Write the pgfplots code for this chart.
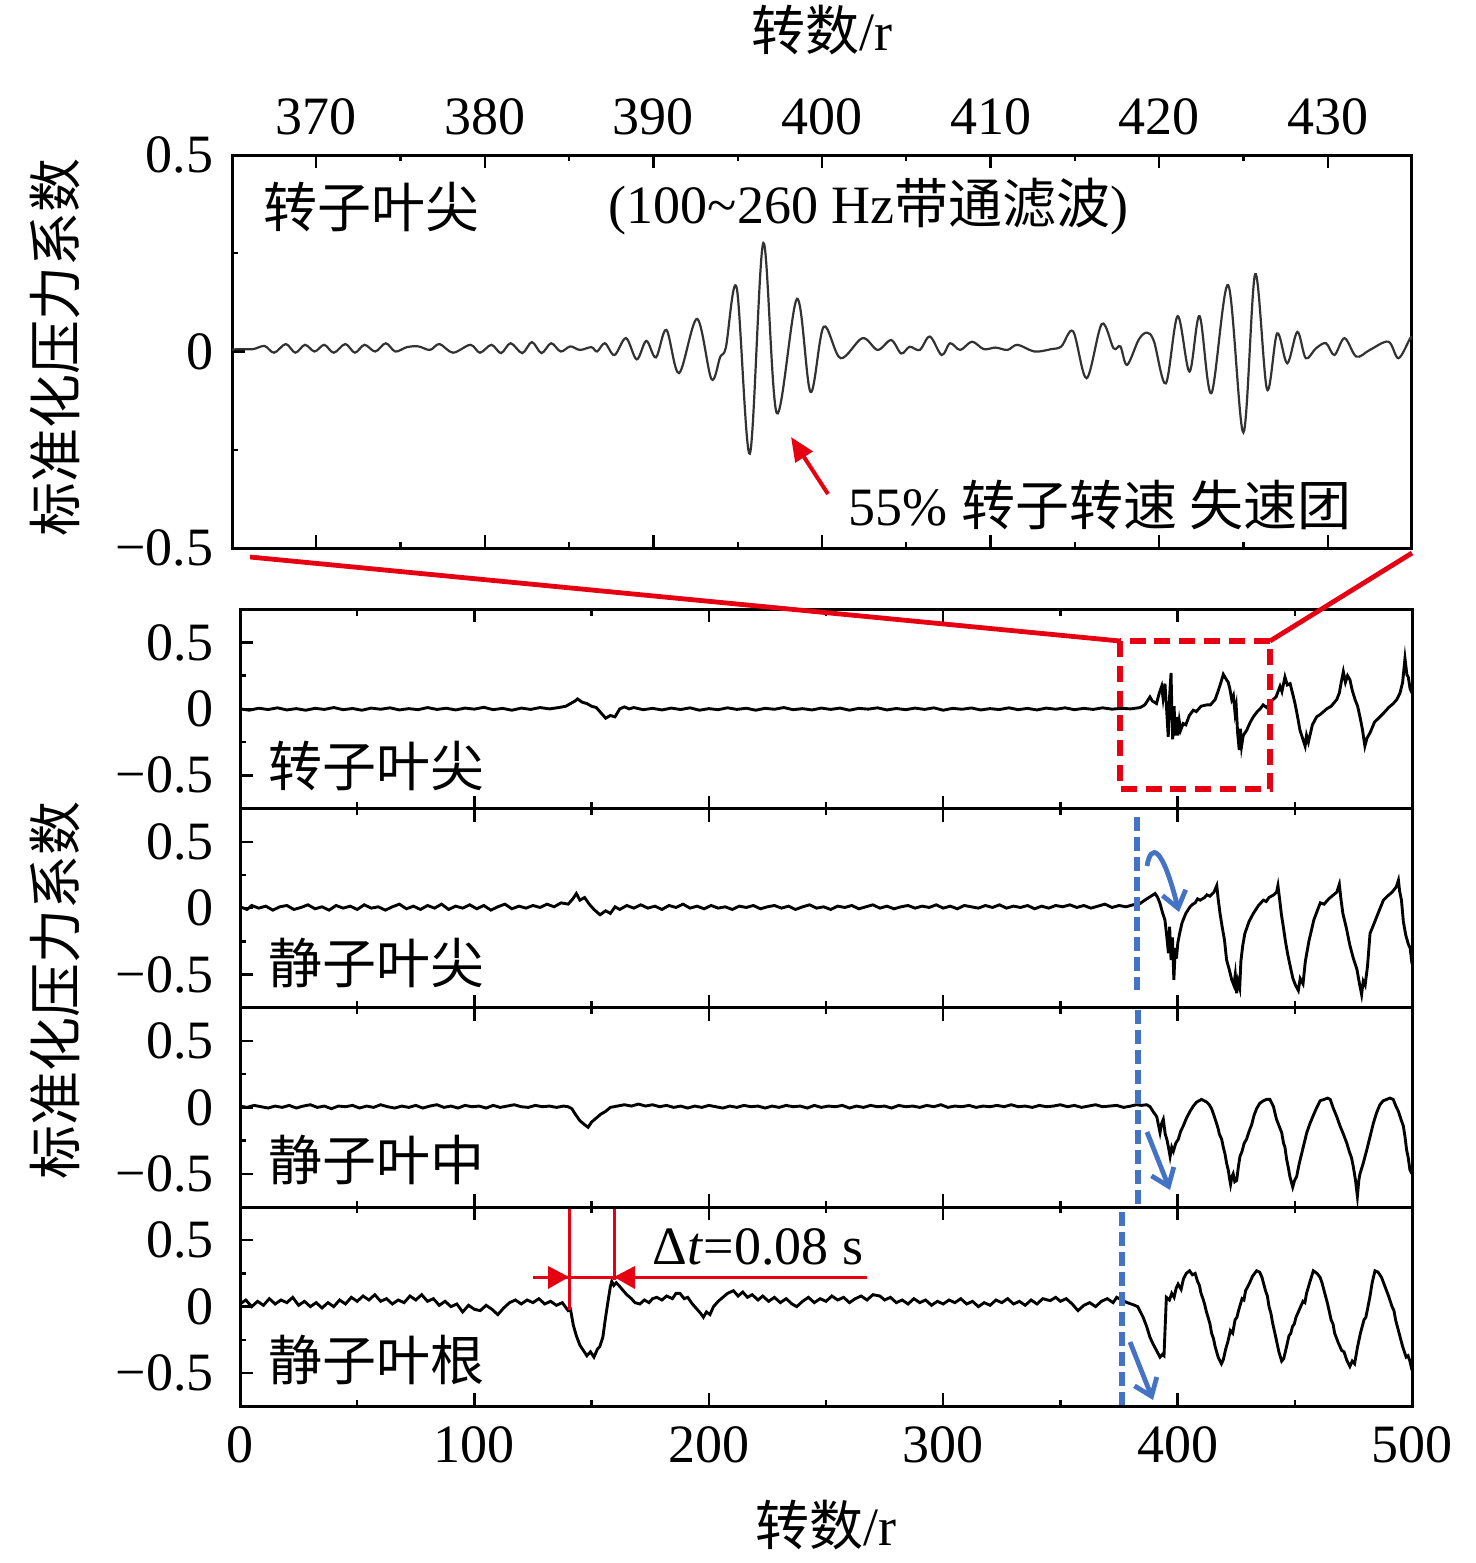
\documentclass[border=0pt]{standalone}
\usepackage{fontspec}
\setmainfont{Liberation Serif}
\newfontfamily\cjk{Noto Sans CJK SC}
\usepackage{pgfplots}
\pgfplotsset{compat=1.18}
\usetikzlibrary{arrows.meta}
\definecolor{myred}{RGB}{230,0,18}
\definecolor{myblue}{RGB}{68,114,196}
\newcommand{\fs}{\fontsize{13.5pt}{16pt}\selectfont}
\pgfplotsset{
  base/.style={scale only axis, tick align=inside, major tick length=3.25pt, minor tick length=1.6pt,
    axis line style={line width=0.75pt}, every tick/.style={black,line width=0.6pt},
    tick label style={font=\fs}, ytick pos=left, xtick pos=both, anchor=north west},
  panel/.style={base, width=293pt, height=49.8125pt, xmin=0, xmax=500, ymin=-0.75, ymax=0.75,
    xtick={0,100,200,300,400,500}, minor xtick={50,150,250,350,450},
    ytick={-0.5,0,0.5}, yticklabels={−0.5,0,0.5}, minor ytick={-0.25,0.25},
    yticklabel style={xshift=-3pt}},
  sig/.style={black, line width=0.72pt},
}
\begin{document}
\begin{tikzpicture}
% ---------- top zoomed axis ----------
\begin{axis}[base, at={(58pt,-38.75pt)}, width=295pt, height=98.25pt,
  xmin=365, xmax=435, ymin=-0.5, ymax=0.5,
  xtick={370,380,390,400,410,420,430}, xticklabels={370,380,390,400,410,420,430},
  minor xtick={365,375,385,395,405,415,425,435}, xticklabel pos=upper,
  xticklabel style={yshift=1.5pt},
  ytick={-0.5,0,0.5}, yticklabels={−0.5,0,0.5}, minor ytick={-0.25,0.25},
  yticklabel style={xshift=-1.2pt}]
\addplot[color={rgb,255:red,50;green,50;blue,50}, line width=0.55pt, smooth, tension=0.55] coordinates {
(365.0,0.005)(365.5,0.006)(366.25,0.006)(366.93,0.014)(367.5,-0.003)(368.19,0.019)(368.76,-0.003)(369.33,0.017)(369.9,0.0)(370.47,0.017)(371.04,-0.003)(371.72,0.019)(372.29,-0.003)(372.86,0.017)(373.5,0.0)(374.12,0.021)(374.69,0.0)(375.37,0.011)(376.06,0.013)(376.74,0.004)(377.31,0.019)(378.11,-0.003)(379.14,0.017)(379.71,-0.003)(380.39,0.017)(380.96,-0.004)(381.53,0.021)(382.22,-0.004)(382.79,0.024)(383.36,-0.004)(383.93,0.021)(384.5,0.0)(385.07,0.013)(385.64,0.004)(386.32,0.011)(386.66,0.0)(387.12,0.021)(387.69,-0.009)(388.37,0.034)(389.01,-0.02)(389.58,0.027)(390.15,-0.015)(390.77,0.055)(391.52,-0.055)(392.59,0.083)(393.44,-0.07)(393.96,-0.014)(394.3,0.011)(394.94,0.162)(395.72,-0.26)(396.52,0.276)(397.32,-0.157)(398.52,0.134)(399.32,-0.103)(400.1,0.063)(401.1,-0.017)(402.4,0.034)(403.3,0.004)(404.1,0.029)(404.7,-0.005)(405.2,0.012)(405.8,0.004)(406.4,0.038)(407.1,-0.009)(407.6,0.021)(408.2,0.004)(408.9,0.025)(409.6,0.006)(410.3,0.01)(411.0,0.004)(411.6,0.017)(412.6,0.0)(413.6,0.006)(414.2,0.013)(414.9,0.051)(415.7,-0.068)(416.6,0.070)(417.3,0.008)(417.7,0.013)(418.1,-0.034)(418.8,0.031)(419.3,0.048)(419.7,0.025)(420.4,-0.081)(421.1,0.090)(421.8,-0.051)(422.4,0.090)(423.1,-0.106)(424.1,0.169)(425.0,-0.206)(425.7,0.197)(426.4,-0.096)(427.0,0.046)(427.6,-0.030)(428.2,0.050)(428.7,-0.017)(429.3,0.008)(429.9,0.021)(430.4,-0.009)(431.0,0.034)(431.7,-0.013)(432.5,0.004)(433.6,0.025)(434.2,-0.017)(434.9,0.034)(435.0,0.03)};
\end{axis}
% ---------- panel 1: rotor tip ----------
\begin{axis}[panel, at={(60pt,-152.3125pt)}, xticklabels={}]
\addplot[sig] coordinates {
(0,0)(4,-.01)(8,.005)(12,-.005)(16,.008)(20,-.008)(24,.002)(28,-.01)(32,.004)(36,-.004)(40,.01)(44,-.006)(48,.003)(52,-.01)(56,.006)(60,-.003)(64,.008)(68,-.008)(72,.002)(76,-.006)(80,.01)(84,-.004)(88,.005)(92,-.008)(96,.006)(100,-.002)(104,.012)(108,-.006)(112,.004)(116,-.01)(120,.006)(124,-.004)(128,.01)(132,.0)(136,.01)(139,.02)(141,.04)(143,.06)(144,.075)(146,.05)(148,.04)(150,.02)(152,.01)(154,-.03)(156,-.07)(158,-.05)(160,-.06)(162,.0)(164,.015)(166,.0)(168,.01)(172,-.006)(176,.004)(180,-.008)(184,.006)(188,-.005)(192,.008)(196,-.01)(200,.002)(204,-.006)(208,.008)(212,-.004)(216,.005)(220,-.01)(224,.004)(228,-.003)(232,.01)(236,-.006)(240,.002)(244,-.008)(248,.006)(252,-.004)(256,.006)(260,-.01)(264,.004)(268,-.002)(272,.008)(276,-.008)(280,.003)(284,-.006)(288,.006)(292,-.004)(296,.008)(300,-.01)(304,.004)(308,-.003)(312,.007)(316,-.008)(320,.002)(324,-.005)(328,.008)(332,-.006)(336,.004)(340,-.008)(344,.006)(348,-.003)(352,.008)(356,-.006)(360,.004)(364,-.004)(368,.008)(372,-.002)(376,.004)(380,.0)(384,.01)(386,.03)(388.2,.09)(389.2,.06)(391,.04)(392.2,.12)(393.2,.17)(393.8,.08)(394.6,.19)(395.3,.0)(396,-.21)(396.6,.1)(397.2,.27)(397.6,-.05)(397.9,-.23)(398.5,.02)(399,-.2)(399.5,-.06)(400,-.2)(400.7,-.09)(401.3,-.16)(402.4,-.11)(403.5,-.12)(405,-.05)(406.7,-.01)(408,-.02)(410,.02)(412.4,.03)(414,.03)(416,.07)(417.4,.14)(418.5,.2)(419.5,.26)(420.5,.23)(421.6,.2)(422.3,.15)(423.1,.07)(423.8,.1)(424.5,-.03)(425,.02)(425.6,-.18)(426.3,-.31)(426.8,-.15)(427.3,-.28)(428,-.2)(429.5,-.16)(431,-.1)(432.3,-.06)(434,-.02)(435.2,.0)(436.5,.03)(438,.01)(440.1,.06)(442,.09)(443.7,.17)(444.5,.13)(445.8,.24)(446.8,.18)(448,.19)(449,.12)(450.1,.04)(451.2,-.06)(452.2,-.16)(453.3,-.22)(454.4,-.28)(455,-.2)(455.8,-.25)(457.5,-.12)(459.3,-.06)(461,-.04)(463.6,.0)(465.5,.02)(467.9,.07)(469,.12)(469.8,.2)(470.7,.28)(471.6,.2)(472.5,.25)(473.5,.22)(474.5,.14)(475.7,.07)(476.8,.02)(477.8,-.06)(478.8,-.15)(479.9,-.28)(480.8,-.22)(482.1,-.18)(484,-.1)(486.3,-.06)(488,-.03)(490,.01)(492,.04)(493.5,.07)(494.9,.12)(496,.2)(497,.38)(497.8,.26)(498.4,.24)(499.2,.15)(500,.12)};
\end{axis}
% ---------- panel 2: stator tip ----------
\begin{axis}[panel, at={(60pt,-202.125pt)}, xticklabels={}]
\addplot[sig] coordinates {
(0,.01)(3,-.01)(5,.02)(8,.0)(11,.015)(14,-.015)(17,.01)(20,.02)(23,-.01)(26,.005)(29,.025)(32,-.005)(35,.01)(38,-.015)(41,.02)(44,.0)(47,.015)(50,-.01)(53,.025)(56,.0)(59,.01)(62,-.015)(65,.01)(68,.03)(71,-.005)(74,.015)(77,-.01)(80,.02)(83,.0)(86,.03)(89,-.01)(92,.015)(95,.0)(98,.025)(101,-.005)(104,.02)(107,-.015)(110,.01)(113,.03)(116,-.005)(119,.015)(122,.0)(125,.02)(128,.005)(131,.03)(134,.01)(137,.04)(140,.03)(142,.07)(143.5,.11)(145,.06)(147,.08)(149,.03)(151,-.01)(153.6,-.05)(156,-.02)(158,-.04)(160,.01)(162,-.01)(165,.02)(168,.0)(171,.025)(174,.0)(177,.015)(180,-.01)(183,.02)(186,.005)(189,.03)(192,.0)(195,.015)(198,-.005)(201,.02)(204,.0)(207,.01)(210,-.01)(213,.015)(216,.005)(219,.02)(222,-.005)(225,.01)(228,.02)(231,.0)(234,.015)(237,-.01)(240,.01)(243,.025)(246,.0)(249,.01)(252,-.01)(255,.015)(258,.005)(261,.02)(264,-.005)(267,.01)(270,.025)(273,.0)(276,.015)(279,-.005)(282,.01)(285,.02)(288,.0)(291,.015)(294,.005)(297,.025)(300,.0)(303,.015)(306,-.005)(309,.02)(312,.01)(315,.0)(318,.02)(321,.005)(324,.025)(327,.0)(330,.015)(333,.005)(336,.02)(339,-.005)(342,.015)(345,.0)(348,.02)(351,.01)(354,.025)(357,.005)(360,.02)(363,.0)(366,.015)(369,.03)(372,.005)(375,.02)(378,.01)(381,.025)(384,.035)(386,.06)(388.2,.085)(390.4,.11)(391.5,.08)(392.5,.035)(393.5,-.03)(394.6,-.09)(395.3,-.2)(396.1,-.34)(396.6,-.14)(397.2,-.39)(397.8,-.22)(398.4,-.54)(399,-.3)(399.5,-.38)(400.1,-.26)(401,-.18)(401.9,-.11)(403.5,-.04)(405.3,.01)(406.5,.03)(407.5,.04)(408.5,.07)(409.6,.06)(411.5,.08)(412.5,.1)(413.8,.09)(415.5,.12)(416.7,.17)(417.3,.07)(418.1,-.04)(419,-.14)(420,-.24)(420.9,-.39)(422,-.46)(423.1,-.54)(424,-.58)(424.6,-.5)(425.2,-.64)(425.8,-.55)(426.5,-.6)(427,-.4)(427.8,-.28)(428.7,-.19)(430.5,-.1)(432.3,-.04)(434.5,.02)(436.6,.06)(437.8,.05)(439,.08)(441,.1)(442.2,.12)(442.8,.17)(443.5,.07)(444.3,-.05)(445.1,-.14)(446,-.25)(447,-.35)(448.2,-.45)(449.2,-.53)(450.3,-.58)(451.5,-.62)(452.3,-.53)(453.5,-.57)(454.5,-.4)(456,-.25)(458.1,-.09)(460,.0)(460.9,.04)(462.5,.03)(464.5,.07)(466.5,.1)(467.9,.12)(469,.18)(469.6,.08)(470.5,-.04)(472,-.15)(473.5,-.28)(475,-.38)(476.5,-.46)(477.5,-.56)(478.5,-.65)(479.2,-.55)(480,-.58)(481,-.44)(482.1,-.19)(483.5,-.13)(485.5,-.04)(487.8,.06)(489.5,.09)(491.5,.12)(493.3,.16)(494.2,.21)(494.7,.13)(495.5,.06)(496.3,-.1)(497.3,-.2)(498.4,-.27)(499.2,-.3)(500,-.42)};
\end{axis}
% ---------- panel 3: stator mid ----------
\begin{axis}[panel, at={(60pt,-251.9375pt)}, xticklabels={}]
\addplot[sig] coordinates {
(0,.01)(3,0)(6,.015)(9,.005)(12,-.005)(15,.01)(18,.0)(21,.015)(24,-.005)(27,.01)(30,.02)(33,.0)(36,.01)(39,-.01)(42,.01)(45,.005)(48,.015)(51,-.005)(54,.01)(57,.0)(60,.02)(63,.005)(66,-.005)(69,.01)(72,.0)(75,.015)(78,-.005)(81,.01)(84,.02)(87,.0)(90,.01)(93,-.005)(96,.015)(99,.005)(102,.01)(105,-.005)(108,.015)(111,.0)(114,.01)(117,.02)(120,.005)(123,.0)(126,.015)(129,.005)(132,.01)(135,.0)(138,.01)(140,.005)(141.6,-.01)(143,-.05)(145,-.1)(147,-.13)(148.5,-.15)(150,-.11)(152,-.08)(154,-.05)(156,-.03)(158,.0)(161,.01)(164,.02)(167,.01)(170,.025)(173,.01)(176,.02)(179,.005)(182,.015)(185,.0)(188,.01)(191,-.005)(194,.01)(197,.0)(200,.015)(203,.005)(206,-.005)(209,.01)(212,.0)(215,.015)(218,.005)(221,.01)(224,-.005)(227,.01)(230,.0)(233,.015)(236,.005)(239,.01)(242,-.005)(245,.015)(248,.0)(251,.01)(254,.005)(257,.015)(260,-.005)(263,.01)(266,.0)(269,.015)(272,.005)(275,.01)(278,-.005)(281,.015)(284,.005)(287,.01)(290,.0)(293,.015)(296,.005)(299,.02)(302,.0)(305,.01)(308,.005)(311,.015)(314,.0)(317,.01)(320,.005)(323,.015)(326,.005)(329,.02)(332,.005)(335,.01)(338,.0)(341,.015)(344,.005)(347,.01)(350,.02)(353,.005)(356,.015)(359,.0)(362,.01)(365,.02)(368,.005)(371,.01)(374,.015)(377,.0)(380,.01)(382.5,.02)(384.5,.015)(386.8,.02)(388.2,.006)(389.5,-.03)(391.1,-.07)(392.5,-.19)(393.2,-.12)(393.9,-.09)(394.7,-.2)(395.4,-.24)(396.1,-.3)(396.8,-.37)(397.5,-.3)(398.2,-.33)(399.2,-.27)(400.3,-.24)(401.3,-.18)(402.4,-.14)(403.8,-.08)(405.3,-.03)(406.7,.01)(408.1,.04)(409.2,.05)(410.2,.06)(411.3,.05)(412.4,.04)(413.5,.02)(414.5,-.01)(415.5,-.06)(416.6,-.12)(417.3,-.16)(417.8,-.2)(418.8,-.24)(419.5,-.3)(420.2,-.35)(420.9,-.42)(421.6,-.47)(422.1,-.53)(422.6,-.58)(423.2,-.52)(423.7,-.5)(424.4,-.56)(425.2,-.55)(425.9,-.45)(426.6,-.37)(427.5,-.33)(428.4,-.27)(429.4,-.24)(430.5,-.18)(431.6,-.13)(432.6,-.06)(433.7,-.01)(435,.03)(436.6,.05)(438,.06)(439.4,.06)(440.2,.03)(440.9,.006)(441.5,-.04)(442.2,-.09)(443.3,-.14)(444.4,-.19)(445.2,-.27)(445.8,-.3)(446.5,-.39)(447.2,-.45)(447.9,-.52)(449.1,-.6)(449.9,-.55)(450.8,-.52)(451.8,-.43)(452.9,-.35)(454,-.27)(455.1,-.19)(456.5,-.12)(457.9,-.06)(459.4,.0)(460.8,.05)(462.5,.06)(464,.07)(465.1,.06)(466.5,-.01)(467.9,-.07)(469.3,-.14)(470.7,-.2)(472.2,-.27)(473.2,-.33)(474.2,-.38)(475,-.45)(475.9,-.55)(476.7,-.67)(477.3,-.55)(477.8,-.5)(479.2,-.42)(480.7,-.32)(482.1,-.22)(483.5,-.12)(484.9,-.04)(486.3,.02)(487.7,.05)(489.2,.06)(490.6,.07)(492,.06)(493.1,.01)(494.2,-.03)(495.3,-.09)(496.3,-.14)(497,-.22)(497.7,-.32)(498.4,-.38)(499.1,-.47)(500,-.5)};
\end{axis}
% ---------- panel 4: stator root ----------
\begin{axis}[panel, at={(60pt,-301.75pt)},
  xticklabels={0,100,200,300,400,500}, xticklabel style={yshift=-1.5pt}]
\addplot[sig] coordinates {
(0,.02)(2.5,.05)(5,.0)(7.5,.04)(10,.01)(12.5,.06)(15,.02)(17.5,.05)(20,.03)(22.5,.07)(25,.01)(27.5,.04)(30,.0)(32.5,.03)(35,-.01)(37.5,.03)(40,.0)(42.5,.05)(45,.02)(47.5,.07)(50,.04)(52.5,.08)(55,.05)(57.5,.09)(60,.04)(62.5,.06)(65,.02)(67.5,.05)(70,.03)(72.5,.08)(75,.05)(77.5,.09)(80,.04)(82.5,.06)(85,.01)(87.5,.04)(90,.0)(92.5,.02)(95,-.04)(97.5,.01)(100,-.02)(102.5,-.03)(105,.01)(107.5,-.02)(110,-.06)(112.5,-.01)(115,.03)(117.5,.05)(120,.02)(122.5,.05)(125,.03)(127.5,.06)(130,.02)(132.5,.04)(135,.01)(137.5,.03)(140,-.03)(141,-.02)(142.2,-.14)(143.5,-.22)(145,-.29)(146.5,-.33)(148,-.37)(149.5,-.34)(151,-.38)(152.5,-.32)(153.5,-.3)(154.8,-.23)(155.8,-.1)(157,.04)(158,.15)(158.6,.19)(159.5,.16)(160.5,.18)(162.1,.15)(163.5,.12)(165,.09)(167,.06)(168.5,.03)(170.6,.02)(172.5,.05)(174.5,.03)(176,.06)(177.8,.07)(180,.05)(182,.08)(184.5,.06)(186,.1)(187.7,.1)(189.5,.06)(191,.07)(193,.02)(195,-.02)(196.5,-.05)(197.7,-.08)(199,-.04)(200.5,-.06)(202,.0)(204,.04)(206,.07)(208,.1)(210.5,.12)(212.5,.08)(214.5,.11)(216.5,.07)(218.5,.09)(221,.05)(223,.08)(225.5,.04)(228,.07)(230.5,.03)(233,.06)(235.5,.02)(237.5,.0)(240,.04)(242.5,.07)(245,.03)(247.5,.06)(250,.04)(252.5,.08)(255,.05)(257.5,.07)(260,.03)(262.5,.06)(265,.08)(267.5,.05)(270,.09)(273,.08)(275,.05)(277.5,.07)(280,.03)(282.5,.05)(285,.02)(287.5,.06)(290,.03)(292.5,.05)(295,.01)(297.5,.04)(300,.02)(302.5,.05)(305,.03)(307.5,.06)(310,.02)(312.5,.04)(315,.0)(317.5,.03)(320,.01)(322.5,.05)(325,.03)(327.5,.06)(330,.02)(332.5,.04)(335,.01)(337.5,.05)(340,.02)(342.5,.06)(345.6,.045)(348,.07)(350,.04)(352.5,.06)(355,.02)(357.5,-.03)(360,.01)(362.5,.03)(365,.0)(367.5,.04)(370,.06)(372.5,.03)(374,.07)(376.1,.05)(378.5,.03)(381,.015)(383,.0)(385.3,-.08)(386.8,-.15)(388.2,-.23)(389.5,-.28)(391,-.33)(392.5,-.38)(393.5,-.36)(394.2,-.37)(394.7,-.15)(395.2,.07)(396.5,.05)(397.5,.1)(398.5,.07)(399.4,.14)(400.2,.17)(401.5,.13)(402.5,.21)(403.7,.25)(405.1,.27)(406.3,.24)(407.5,.25)(408.5,.19)(409.3,.16)(410,.1)(410.8,.06)(411.5,.02)(412.3,-.04)(413,-.08)(413.8,-.13)(414.5,-.2)(415.3,-.24)(416,-.3)(417.3,-.38)(418.7,-.43)(419.5,-.4)(420.5,-.32)(421.5,-.26)(422.5,-.18)(423.5,-.2)(424.5,-.1)(425.3,-.08)(426,-.03)(427.5,.06)(428.3,.05)(429,.12)(430.5,.17)(432,.23)(433.7,.27)(435,.26)(436,.22)(437.5,.12)(438.3,.08)(439,.0)(439.8,-.05)(440.5,-.12)(442,-.24)(443.2,-.34)(444.4,-.41)(445.3,-.39)(446.5,-.3)(447.5,-.22)(448.3,-.2)(449,-.15)(449.8,-.13)(450.5,-.08)(452,-.02)(453.5,.04)(454.3,.03)(455,.1)(456.5,.19)(457.9,.27)(459.5,.25)(460.8,.22)(461.6,.18)(462.5,.12)(464,.02)(465.5,-.1)(466.3,-.13)(467,-.2)(468.5,-.27)(470,-.33)(471,-.34)(472.1,-.4)(473.5,-.45)(474.5,-.41)(475.5,-.43)(476.8,-.3)(478,-.2)(479.5,-.1)(480.3,-.08)(481,-.02)(482,.07)(483,.18)(484.2,.27)(485.5,.26)(487,.22)(488.5,.15)(490,.08)(491.5,.0)(492.3,-.03)(493,-.1)(494.5,-.2)(496,-.3)(497.5,-.38)(498.3,-.37)(499.1,-.41)(500,-.48)};
\end{axis}
% ---------- annotations (pixel units) ----------
\begin{scope}[x=0.25pt, y=-0.25pt]
\path (0,0) rectangle (1476,1563);
\node[font=\fs, inner sep=0] at (822,30) {{\cjk 转数}/r};
\node[font=\fs, inner sep=0] at (826,1525) {{\cjk 转数}/r};
\node[font=\fs\cjk, inner sep=0, rotate=90] at (55,347) {标准化压力系数};
\node[font=\fs\cjk, inner sep=0, rotate=90] at (55,990) {标准化压力系数};
\node[font=\fs, inner sep=0, anchor=west] at (263,207) {{\cjk 转子叶尖}};
\node[font=\fs, inner sep=0, anchor=west] at (608,207) {(100\textasciitilde260 Hz{\cjk 带通滤波})};
\node[font=\fs, inner sep=0, anchor=west] at (848,505) {55\% {\cjk 转子转速 失速团}};
\draw[myred, line width=1pt, -{Triangle[length=6pt,width=5pt]}] (828,494) -- (791,437);
\node[font=\fs\cjk, inner sep=0, anchor=west] at (268,766) {转子叶尖};
\node[font=\fs\cjk, inner sep=0, anchor=west] at (268,963) {静子叶尖};
\node[font=\fs\cjk, inner sep=0, anchor=west] at (268,1160) {静子叶中};
\node[font=\fs\cjk, inner sep=0, anchor=west] at (268,1360) {静子叶根};
% zoom lines and box
\draw[myred, line width=1.2pt] (250,557) -- (1120,641);
\draw[myred, line width=1.2pt] (1412,553) -- (1270,641);
\draw[myred, line width=1.3pt, dash pattern=on 4pt off 2.2pt] (1120,641) rectangle (1270,789);
% blue onset markers
\draw[myblue, line width=1.3pt, dash pattern=on 3.4pt off 1.6pt] (1137,817) -- (1137,990);
\draw[myblue, line width=1.3pt, dash pattern=on 3.4pt off 1.6pt] (1138,1010) -- (1138,1205);
\draw[myblue, line width=1.3pt, dash pattern=on 3.4pt off 1.6pt] (1122,1212) -- (1122,1405);
\draw[myblue, line width=1.2pt, -{Straight Barb[length=4pt,width=6pt]}] (1147,866) .. controls (1151,843) and (1162,845) .. (1179,912);
\draw[myblue, line width=1.2pt, -{Straight Barb[length=4pt,width=6pt]}] (1147,1132) -- (1170,1190);
\draw[myblue, line width=1.2pt, -{Straight Barb[length=4pt,width=6pt]}] (1130,1342) -- (1153,1400);
% delta t annotation
\draw[myred, line width=0.75pt] (569,1209) -- (569,1310);
\draw[myred, line width=0.75pt] (614,1209) -- (614,1280);
\draw[myred, line width=0.75pt] (533,1277) -- (867,1277);
\fill[myred] (569,1277) -- (548,1266) -- (548,1289) -- cycle;
\fill[myred] (614,1277) -- (635,1266) -- (635,1289) -- cycle;
\node[font=\fs, inner sep=0, anchor=west] at (652,1247) {Δ\textit{t}=0.08 s};
\end{scope}
\end{tikzpicture}
\end{document}
